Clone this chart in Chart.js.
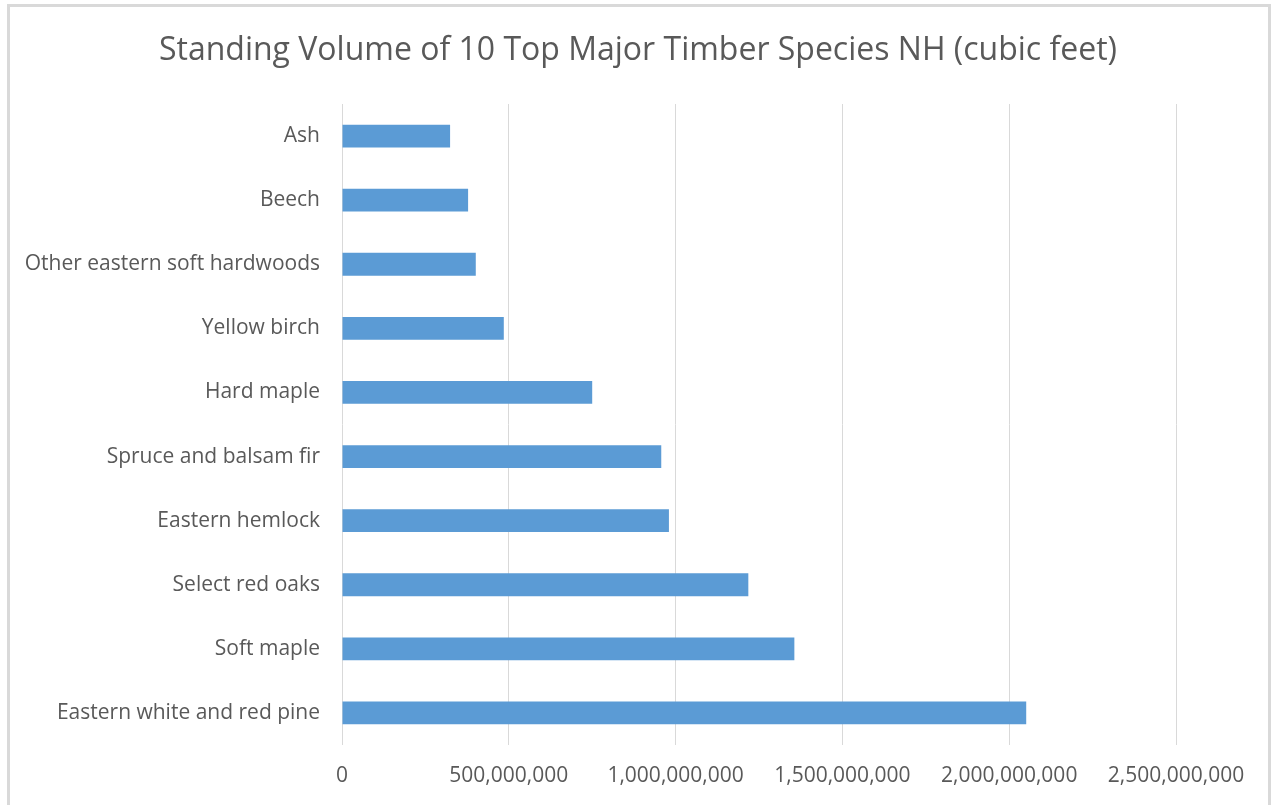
<!DOCTYPE html>
<html>
<head>
<meta charset="utf-8">
<script src="https://cdn.jsdelivr.net/npm/chart.js@4"></script>
<style>
  html, body { margin: 0; padding: 0; background: #fff; }
  #wrap { position: relative; width: 1276px; height: 805px; }
  #frame {
    position: absolute; left: 7px; top: 4px; width: 1264px; height: 805px;
    border: 3px solid #d9d9d9; border-bottom: none; box-sizing: border-box;
    pointer-events: none;
  }
</style>
</head>
<body>
<div id="wrap">
  <canvas id="chart" width="1276" height="805"></canvas>
  <div id="frame"></div>
</div>
<script>
// Species (top to bottom as in the chart)
const species = [
  'Ash',
  'Beech',
  'Other eastern soft hardwoods',
  'Yellow birch',
  'Hard maple',
  'Spruce and balsam fir',
  'Eastern hemlock',
  'Select red oaks',
  'Soft maple',
  'Eastern white and red pine'
];

// Standing volume, cubic feet
const volume = [
  324000000,
  378000000,
  401000000,
  485000000,
  750000000,
  957000000,
  980000000,
  1218000000,
  1356000000,
  2051000000
];

const xMax = 2500000000;
const xStep = 500000000;

const textGrey = '#595959';
const fontFamily = '"Open Sans", "Noto Sans", sans-serif';

const ctx = document.getElementById('chart').getContext('2d');

new Chart(ctx, {
  type: 'bar',
  data: {
    labels: species,
    datasets: [{
      label: 'Standing volume',
      data: volume,
      backgroundColor: '#5b9bd5',
      borderWidth: 0,
      categoryPercentage: 1,
      barPercentage: 0.355
    }]
  },
  options: {
    indexAxis: 'y',
    responsive: false,
    animation: false,
    layout: { padding: 0 },
    plugins: {
      legend: { display: false },
      tooltip: { enabled: false },
      title: {
        display: true,
        text: 'Standing Volume of 10 Top Major Timber Species NH (cubic feet)',
        color: textGrey,
        font: { family: fontFamily, size: 32, weight: 'normal' },
        padding: { top: 32, bottom: 33.6 }
      }
    },
    scales: {
      x: {
        min: 0,
        max: xMax,
        border: { display: false },
        grid: { color: '#d9d9d9', lineWidth: 1, drawTicks: false },
        ticks: {
          stepSize: xStep,
          color: textGrey,
          padding: 18,
          font: { family: fontFamily, size: 21 },
          callback: v => v.toLocaleString('en-US')
        },
        afterFit: s => { s.height = 60; }
      },
      y: {
        border: { display: false },
        grid: { display: false, drawTicks: false },
        ticks: {
          color: textGrey,
          padding: 22,
          font: { family: fontFamily, size: 21 }
        },
        afterFit: s => { s.width = 342; }
      },
      // empty right-hand strip so the plot stops at 2.5 billion like the original
      spacer: {
        type: 'category',
        position: 'right',
        border: { display: false },
        grid: { display: false, drawTicks: false },
        ticks: { display: false },
        afterFit: s => { s.width = 100; }
      }
    }
  }
});
</script>
</body>
</html>
